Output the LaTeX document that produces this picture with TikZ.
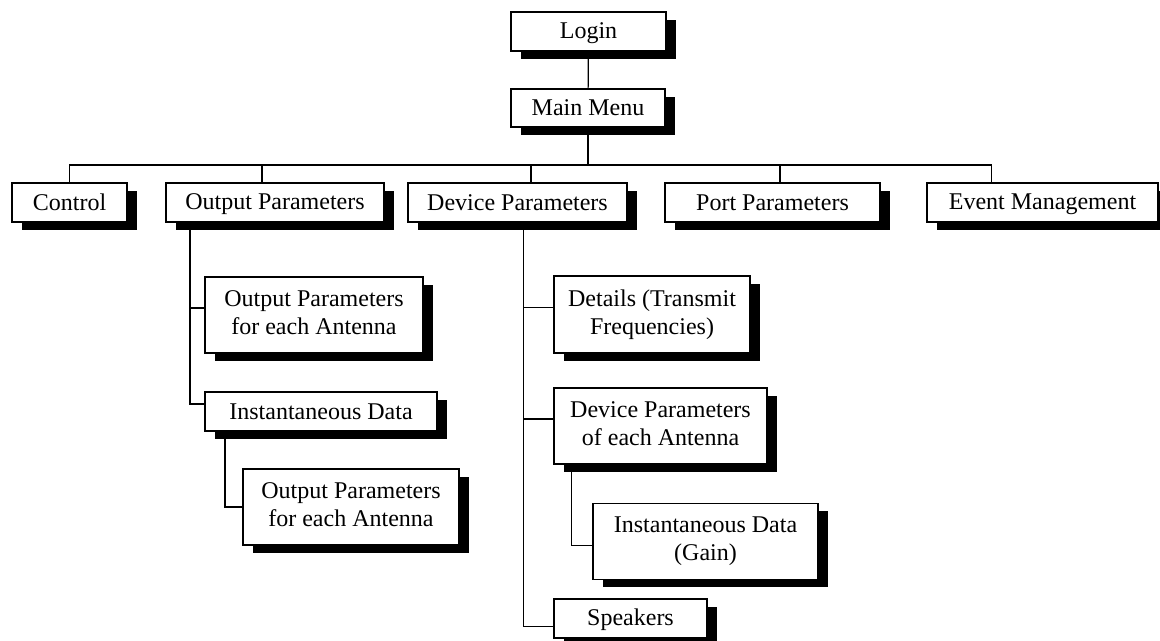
\documentclass[tikz,border=0pt]{standalone}
\usepackage{fontspec}
\setmainfont{Liberation Serif}
\usetikzlibrary{calc}
\usetikzlibrary{shadows}

\tikzset{
  menubox/.style={draw, line width=0.6pt, fill=white, align=center, inner sep=0pt,
    font={\fontsize{12}{13.8}\selectfont},
    execute at begin node={\rule{0pt}{10pt}},
    execute at end node={\rule[-2.2pt]{0pt}{2.2pt}},
    drop shadow={shadow xshift=4.75pt, shadow yshift=-4pt, fill=black, opacity=1}},
  link/.style={line width=0.6pt}
}

\begin{document}
\begin{tikzpicture}[x=0.5pt,y=-0.5pt]
                    \useasboundingbox (0,0) rectangle (1160,641);
                    \clip (0,0) rectangle (1160,641);

                    \node[menubox, minimum width=77.5pt, minimum height=19.5pt] (login) at (588.5,31.5) {Login};
                    \node[menubox, minimum width=77pt, minimum height=19pt] (mm) at (588,108) {Main Menu};

                    \node[menubox, minimum width=57.5pt, minimum height=19.5pt] (ctl) at (69.5,202.5) {Control};
                    \node[menubox, minimum width=109pt, minimum height=19.5pt] (out) at (275,202.5) {Output Parameters};
                    \node[menubox, minimum width=109.5pt, minimum height=19.5pt] (dev) at (517.5,202.5) {Device Parameters};
                    \node[menubox, minimum width=107.5pt, minimum height=19.5pt] (port) at (772.5,202.5) {Port Parameters};
                    \node[menubox, minimum width=115.5pt, minimum height=19.5pt] (evt) at (1042.5,202.5) {Event Management};

                    \node[menubox, minimum width=109pt, minimum height=38pt] (outant) at (314,315) {Output Parameters\\for each Antenna};
                    \node[menubox, minimum width=116pt, minimum height=19.5pt] (outinst) at (321,411.5) {Instantaneous Data};
                    \node[menubox, minimum width=108pt, minimum height=38pt] (instant) at (351,507) {Output Parameters\\for each Antenna};

                    \node[menubox, minimum width=98pt, minimum height=38.5pt] (det) at (652,314.5) {Details (Transmit\\Frequencies)};
                    \node[menubox, minimum width=106.5pt, minimum height=38pt] (devant) at (660.5,426) {Device Parameters\\of each Antenna};
                    \node[menubox, minimum width=112.5pt, minimum height=38pt] (gain) at (705.5,541.3) {Instantaneous Data\\(Gain)};
                    \node[menubox, minimum width=76.5pt, minimum height=19.5pt] (spk) at (630.5,618.5) {Speakers};

                    \coordinate (bus) at ($(mm.south)+(0,37.5)$);

                    \draw[link] (login) -- (mm);
                    \draw[link] (mm) -- (bus);
                    \foreach \n/\dx in {ctl/0, out/-13, dev/13.5, port/7.5, evt/-51}
                        \draw[link] ($(\n.north)+(\dx,0)$) |- (bus);

                    \draw[link] ($(out.south)+(-85,0)$) |- ($(outant.west)+(0,-7)$);
                    \draw[link] ($(out.south)+(-85,0)$) |- ($(outinst.west)+(0,-7.5)$);
                    \draw[link] ($(outinst.south)+(-96,0)$) |- (instant.west);

                    \draw[link] ($(dev.south)+(6,0)$) |- ($(det.west)+(0,-7)$);
                    \draw[link] ($(dev.south)+(6,0)$) |- ($(devant.west)+(0,-7)$);
                    \draw[link] ($(dev.south)+(6,0)$) |- ($(spk.west)+(0,8)$);
                    \draw[link] ($(devant.south)+(-89,0)$) |- ($(gain.west)+(0,4.5)$);
\end{tikzpicture}
\end{document}
